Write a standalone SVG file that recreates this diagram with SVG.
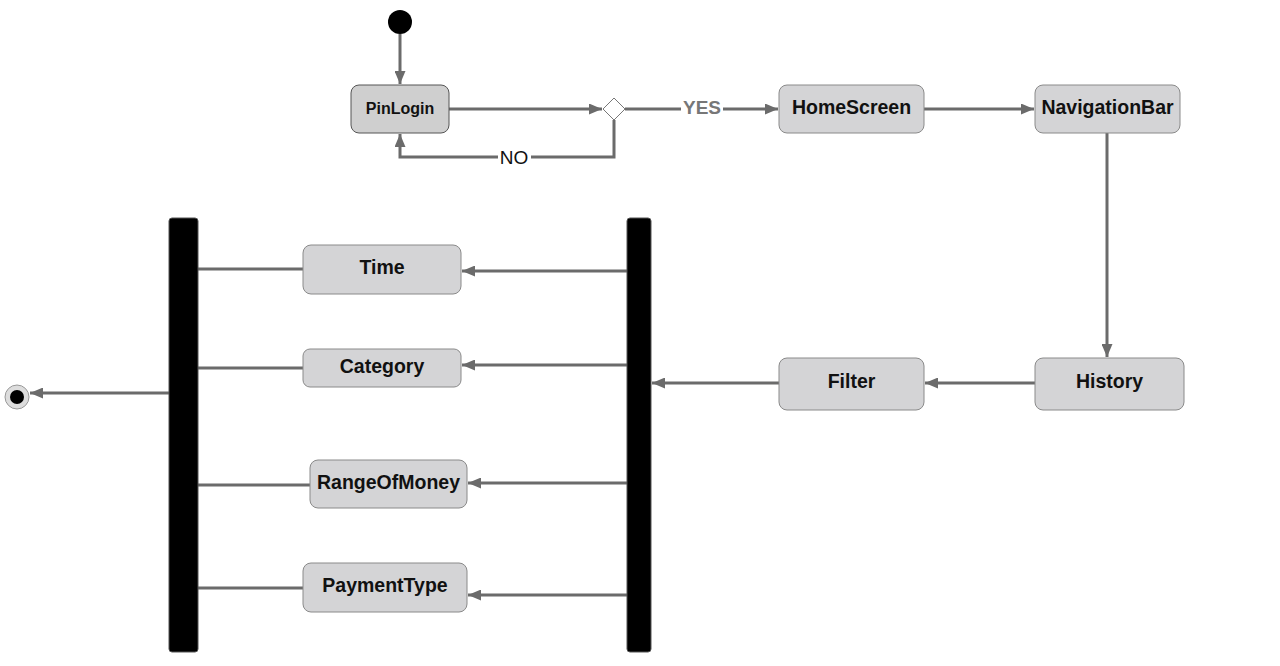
<svg xmlns="http://www.w3.org/2000/svg" width="1280" height="666" viewBox="0 0 1280 666">
<style>
.node rect{fill:#d4d4d6;stroke:#8a8a8a;stroke-width:1}
.node text{font-family:"Liberation Sans",Arial,sans-serif;font-weight:bold;font-size:19.5px;fill:#111;text-anchor:middle}
.bar{fill:#000;stroke:#555;stroke-width:1}
.conn{fill:none;stroke:#6b6b6b;stroke-width:3}
.lbl{font-family:"Liberation Sans",Arial,sans-serif;font-size:19px;text-anchor:middle}
</style>
<defs>
<marker id="ah" viewBox="0 0 13 11" refX="13" refY="5.5" markerWidth="13" markerHeight="11" markerUnits="userSpaceOnUse" orient="auto">
<path d="M0,0 L13,5.5 L0,11 z" fill="#6b6b6b"/>
</marker>
</defs>
<rect width="1280" height="666" fill="#fff"/>
<g id="connectors">
<line class="conn" x1="400" y1="34" x2="400" y2="84" marker-end="url(#ah)"/>
<line class="conn" x1="449" y1="109" x2="602" y2="109" marker-end="url(#ah)"/>
<line class="conn" x1="625" y1="109" x2="778" y2="109" marker-end="url(#ah)"/>
<polyline class="conn" points="614,120 614,157 400,157 400,134" marker-end="url(#ah)"/>
<line class="conn" x1="924" y1="109" x2="1034" y2="109" marker-end="url(#ah)"/>
<line class="conn" x1="1107" y1="133" x2="1107" y2="357" marker-end="url(#ah)"/>
<line class="conn" x1="1035" y1="383" x2="925" y2="383" marker-end="url(#ah)"/>
<line class="conn" x1="779" y1="383" x2="652" y2="383" marker-end="url(#ah)"/>
<line class="conn" x1="627" y1="271" x2="462" y2="271" marker-end="url(#ah)"/>
<line class="conn" x1="627" y1="365" x2="462" y2="365" marker-end="url(#ah)"/>
<line class="conn" x1="627" y1="483" x2="468" y2="483" marker-end="url(#ah)"/>
<line class="conn" x1="627" y1="595" x2="468" y2="595" marker-end="url(#ah)"/>
<line class="conn" x1="303" y1="269" x2="198" y2="269"/>
<line class="conn" x1="303" y1="368" x2="198" y2="368"/>
<line class="conn" x1="310" y1="485" x2="198" y2="485"/>
<line class="conn" x1="303" y1="588" x2="198" y2="588"/>
<line class="conn" x1="169" y1="393" x2="30" y2="393" marker-end="url(#ah)"/>
<rect x="681" y="98" width="42" height="20" fill="#fff"/>
<text class="lbl" x="702" y="114" font-weight="bold" fill="#777">YES</text>
<rect x="498" y="147" width="33" height="20" fill="#fff"/>
<text class="lbl" x="514" y="164" fill="#111">NO</text>
</g>
<g id="start"><circle cx="400" cy="22" r="12" fill="#000"/></g>
<g id="end"><circle cx="17" cy="397" r="12" fill="#ddd" stroke="#999" stroke-width="1"/><circle cx="17" cy="397" r="7" fill="#000"/></g>
<g id="decision"><polygon points="614,98 625,109 614,120 603,109" fill="#fff" stroke="#777" stroke-width="1"/></g>
<g id="PinLogin" class="node"><rect x="351" y="85" width="98" height="48" rx="8" style="fill:#cfcfcf;stroke:#555"/><text x="400" y="114" style="font-size:16px">PinLogin</text></g>
<g id="HomeScreen" class="node"><rect x="779" y="85" width="145" height="48" rx="8"/><text x="851.5" y="114">HomeScreen</text></g>
<g id="NavigationBar" class="node"><rect x="1035" y="85" width="145" height="48" rx="8"/><text x="1107.5" y="114">NavigationBar</text></g>
<g id="History" class="node"><rect x="1035" y="358" width="149" height="52" rx="8"/><text x="1109.5" y="388">History</text></g>
<g id="Filter" class="node"><rect x="779" y="358" width="145" height="52" rx="8"/><text x="851.5" y="388">Filter</text></g>
<g id="Time" class="node"><rect x="303" y="245" width="158" height="49" rx="8"/><text x="382" y="274">Time</text></g>
<g id="Category" class="node"><rect x="303" y="349" width="158" height="38" rx="7"/><text x="382" y="373">Category</text></g>
<g id="RangeOfMoney" class="node"><rect x="310" y="460" width="157" height="48" rx="8"/><text x="388.5" y="489">RangeOfMoney</text></g>
<g id="PaymentType" class="node"><rect x="303" y="563" width="164" height="49" rx="8"/><text x="385" y="592">PaymentType</text></g>
<g id="forkBar"><rect class="bar" x="627" y="218" width="24" height="434" rx="3"/></g>
<g id="joinBar"><rect class="bar" x="169" y="218" width="29" height="434" rx="3"/></g>
</svg>
